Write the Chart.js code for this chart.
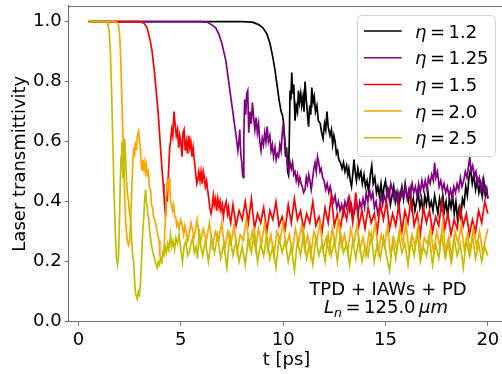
<!DOCTYPE html>
<html>
<head>
<meta charset="utf-8">
<script src="https://cdn.jsdelivr.net/npm/chart.js@4.4.1/dist/chart.umd.min.js"></script>
<style>
  html, body { margin: 0; padding: 0; background: #fff; overflow: hidden; }
  canvas { display: block; }
</style>
</head>
<body>
<canvas id="chart" width="510" height="374"></canvas>
<script>
// tick labels
const xTicks = [0, 5, 10, 15, 20];
const yTicks = [0, 0.2, 0.4, 0.6, 0.8, 1.0];

// legend values and line colours
const etaValues = ['1.2', '1.25', '1.5', '2.0', '2.5'];
const colors = ['#000000', '#800080', '#ff0000', '#ffa500', '#bfbf00'];

// transmittivity vs t [ps] as [t, T] pairs
const eta12 = [[0.5,1],[8.0,1],[8.5,0.998],[8.8,0.99],[9.0,0.98],[9.2,0.96],[9.35,0.93],[9.5,0.88],[9.6,0.84],[9.7,0.79],[9.8,0.74],[9.9,0.7],[9.96,0.69],[10.01,0.67],[10.06,0.62],[10.12,0.55],[10.17,0.58],[10.22,0.5],[10.26,0.49],[10.3,0.6],[10.34,0.77],[10.38,0.74],[10.42,0.83],[10.47,0.76],[10.52,0.79],[10.58,0.67],[10.64,0.72],[10.7,0.7],[10.75,0.77],[10.8,0.73],[10.86,0.76],[10.91,0.72],[10.97,0.75],[11.02,0.7],[11.07,0.8],[11.13,0.74],[11.18,0.7],[11.24,0.65],[11.3,0.72],[11.35,0.69],[11.4,0.78],[11.46,0.73],[11.52,0.75],[11.58,0.7],[11.65,0.72],[11.72,0.67],[11.81,0.66],[11.88,0.63],[11.95,0.61],[12.02,0.66],[12.08,0.64],[12.14,0.7],[12.2,0.65],[12.29,0.62],[12.36,0.64],[12.42,0.59],[12.48,0.62],[12.54,0.6],[12.6,0.56],[12.66,0.57],[12.72,0.54],[12.8,0.53],[12.88,0.51],[12.95,0.53],[13.02,0.5],[13.1,0.52],[13.16,0.49],[13.21,0.51],[13.28,0.47],[13.34,0.45],[13.4,0.49],[13.46,0.54],[13.52,0.5],[13.58,0.47],[13.65,0.51],[13.72,0.48],[13.8,0.5],[13.87,0.46],[13.95,0.49],[14.02,0.45],[14.1,0.47],[14.18,0.43],[14.26,0.49],[14.33,0.52],[14.4,0.46],[14.48,0.48],[14.56,0.43],[14.63,0.45],[14.7,0.42],[14.78,0.46],[14.86,0.41],[14.93,0.45],[15.0,0.47],[15.08,0.42],[15.16,0.44],[15.24,0.39],[15.32,0.42],[15.4,0.45],[15.48,0.4],[15.56,0.43],[15.64,0.38],[15.72,0.42],[15.8,0.45],[15.88,0.41],[15.96,0.46],[16.04,0.42],[16.12,0.4],[16.2,0.44],[16.28,0.38],[16.36,0.41],[16.44,0.37],[16.52,0.4],[16.6,0.43],[16.68,0.38],[16.76,0.41],[16.84,0.36],[16.92,0.42],[17.0,0.39],[17.08,0.43],[17.16,0.38],[17.24,0.4],[17.32,0.37],[17.4,0.42],[17.48,0.39],[17.56,0.36],[17.64,0.41],[17.72,0.38],[17.8,0.42],[17.88,0.37],[17.96,0.4],[18.04,0.35],[18.12,0.41],[18.2,0.38],[18.28,0.42],[18.36,0.36],[18.44,0.4],[18.52,0.34],[18.6,0.38],[18.68,0.35],[18.76,0.41],[18.84,0.39],[18.92,0.45],[19.0,0.42],[19.08,0.48],[19.16,0.51],[19.24,0.46],[19.32,0.49],[19.4,0.44],[19.48,0.47],[19.56,0.43],[19.64,0.46],[19.72,0.42],[19.8,0.47],[19.88,0.42],[19.95,0.44],[20.0,0.41]];

const eta125 = [[0.5,1],[6.0,1],[6.3,0.998],[6.5,0.99],[6.7,0.98],[6.85,0.96],[7.0,0.93],[7.1,0.9],[7.2,0.87],[7.3,0.82],[7.4,0.77],[7.5,0.72],[7.6,0.67],[7.7,0.62],[7.79,0.57],[7.84,0.6],[7.88,0.64],[7.93,0.56],[7.98,0.53],[8.02,0.49],[8.05,0.48],[8.08,0.62],[8.12,0.74],[8.17,0.69],[8.22,0.76],[8.27,0.77],[8.32,0.63],[8.38,0.7],[8.44,0.66],[8.5,0.73],[8.56,0.68],[8.62,0.64],[8.68,0.68],[8.74,0.63],[8.8,0.66],[8.86,0.6],[8.92,0.57],[8.98,0.61],[9.04,0.59],[9.1,0.63],[9.16,0.6],[9.22,0.65],[9.28,0.6],[9.35,0.62],[9.41,0.57],[9.47,0.59],[9.53,0.55],[9.6,0.58],[9.66,0.54],[9.72,0.56],[9.78,0.55],[9.84,0.59],[9.9,0.57],[9.96,0.63],[10.01,0.66],[10.06,0.62],[10.12,0.58],[10.17,0.56],[10.22,0.52],[10.28,0.5],[10.34,0.53],[10.4,0.51],[10.46,0.53],[10.52,0.49],[10.58,0.5],[10.64,0.47],[10.7,0.49],[10.76,0.46],[10.82,0.48],[10.88,0.46],[10.94,0.45],[11.0,0.43],[11.07,0.44],[11.13,0.48],[11.19,0.46],[11.25,0.49],[11.31,0.47],[11.37,0.44],[11.43,0.47],[11.5,0.51],[11.56,0.53],[11.62,0.5],[11.68,0.55],[11.74,0.53],[11.8,0.5],[11.86,0.51],[11.93,0.48],[12.0,0.47],[12.08,0.44],[12.15,0.46],[12.23,0.43],[12.3,0.45],[12.38,0.42],[12.46,0.4],[12.54,0.42],[12.62,0.38],[12.7,0.4],[12.78,0.37],[12.86,0.39],[12.94,0.36],[13.02,0.4],[13.1,0.38],[13.18,0.41],[13.26,0.37],[13.34,0.39],[13.42,0.35],[13.5,0.37],[13.58,0.4],[13.66,0.36],[13.74,0.4],[13.82,0.38],[13.9,0.41],[13.98,0.38],[14.06,0.43],[14.14,0.4],[14.22,0.44],[14.3,0.41],[14.38,0.43],[14.46,0.38],[14.54,0.4],[14.62,0.36],[14.7,0.38],[14.78,0.42],[14.86,0.39],[14.94,0.42],[15.02,0.4],[15.1,0.44],[15.18,0.41],[15.26,0.46],[15.34,0.44],[15.42,0.41],[15.5,0.43],[15.58,0.4],[15.66,0.43],[15.74,0.41],[15.82,0.44],[15.9,0.42],[15.98,0.45],[16.06,0.41],[16.14,0.44],[16.22,0.42],[16.3,0.46],[16.38,0.43],[16.46,0.45],[16.54,0.42],[16.62,0.46],[16.7,0.43],[16.78,0.47],[16.86,0.44],[16.94,0.47],[17.02,0.44],[17.1,0.48],[17.18,0.46],[17.26,0.49],[17.34,0.47],[17.4,0.53],[17.46,0.48],[17.54,0.5],[17.62,0.45],[17.7,0.47],[17.78,0.44],[17.86,0.46],[17.94,0.43],[18.02,0.45],[18.1,0.42],[18.18,0.44],[18.26,0.41],[18.34,0.45],[18.42,0.43],[18.5,0.46],[18.58,0.44],[18.66,0.48],[18.74,0.45],[18.82,0.47],[18.9,0.5],[18.98,0.48],[19.06,0.52],[19.12,0.55],[19.18,0.5],[19.26,0.52],[19.34,0.48],[19.42,0.5],[19.5,0.46],[19.58,0.48],[19.66,0.44],[19.74,0.47],[19.82,0.43],[19.9,0.45],[20.0,0.41]];

const eta15 = [[0.5,1],[3.0,1],[3.2,0.995],[3.35,0.98],[3.5,0.94],[3.6,0.9],[3.7,0.84],[3.8,0.77],[3.9,0.69],[4.0,0.59],[4.08,0.51],[4.14,0.46],[4.18,0.42],[4.22,0.38],[4.26,0.35],[4.3,0.42],[4.34,0.4],[4.4,0.5],[4.46,0.58],[4.5,0.6],[4.56,0.64],[4.61,0.62],[4.67,0.7],[4.72,0.66],[4.78,0.62],[4.84,0.64],[4.9,0.58],[4.95,0.62],[5.0,0.6],[5.06,0.55],[5.11,0.63],[5.16,0.64],[5.22,0.57],[5.28,0.6],[5.33,0.56],[5.39,0.62],[5.44,0.58],[5.49,0.6],[5.55,0.55],[5.6,0.58],[5.66,0.54],[5.72,0.5],[5.78,0.46],[5.82,0.47],[5.88,0.5],[5.94,0.47],[5.99,0.5],[6.05,0.46],[6.1,0.5],[6.15,0.48],[6.2,0.45],[6.26,0.47],[6.31,0.44],[6.37,0.41],[6.42,0.38],[6.48,0.36],[6.53,0.38],[6.59,0.42],[6.64,0.39],[6.7,0.41],[6.75,0.37],[6.81,0.41],[6.87,0.38],[6.92,0.4],[6.97,0.37],[7.03,0.39],[7.08,0.35],[7.14,0.38],[7.22,0.4],[7.28,0.36],[7.33,0.38],[7.38,0.35],[7.44,0.33],[7.55,0.39],[7.7,0.32],[7.85,0.37],[8.0,0.34],[8.15,0.4],[8.3,0.33],[8.45,0.41],[8.6,0.31],[8.75,0.36],[8.9,0.33],[9.05,0.38],[9.2,0.3],[9.35,0.37],[9.5,0.34],[9.65,0.4],[9.8,0.32],[9.95,0.35],[10.1,0.31],[10.25,0.39],[10.4,0.33],[10.55,0.41],[10.7,0.34],[10.85,0.37],[11.0,0.31],[11.15,0.36],[11.3,0.33],[11.45,0.4],[11.6,0.32],[11.75,0.35],[11.9,0.3],[12.05,0.38],[12.2,0.33],[12.35,0.42],[12.5,0.32],[12.65,0.36],[12.8,0.31],[12.95,0.38],[13.1,0.34],[13.25,0.41],[13.4,0.33],[13.55,0.43],[13.7,0.32],[13.85,0.37],[14.0,0.31],[14.15,0.38],[14.3,0.33],[14.45,0.36],[14.6,0.3],[14.75,0.39],[14.9,0.34],[15.05,0.4],[15.2,0.31],[15.35,0.36],[15.5,0.32],[15.65,0.39],[15.8,0.3],[15.95,0.37],[16.1,0.33],[16.25,0.41],[16.4,0.32],[16.55,0.36],[16.7,0.29],[16.85,0.38],[17.0,0.33],[17.15,0.37],[17.3,0.3],[17.45,0.35],[17.6,0.32],[17.75,0.4],[17.9,0.31],[18.05,0.36],[18.2,0.29],[18.35,0.34],[18.5,0.31],[18.65,0.38],[18.8,0.32],[18.95,0.36],[19.1,0.29],[19.25,0.34],[19.4,0.3],[19.55,0.37],[19.7,0.33],[19.85,0.4],[20.0,0.36]];

const eta20 = [[0.5,1],[1.8,1],[1.9,0.995],[1.97,0.985],[2.02,0.95],[2.07,0.87],[2.12,0.75],[2.17,0.62],[2.22,0.5],[2.28,0.38],[2.34,0.3],[2.4,0.265],[2.45,0.255],[2.5,0.27],[2.55,0.33],[2.6,0.43],[2.65,0.52],[2.7,0.58],[2.74,0.55],[2.78,0.6],[2.83,0.57],[2.88,0.62],[2.94,0.635],[2.99,0.6],[3.03,0.58],[3.07,0.52],[3.11,0.505],[3.15,0.54],[3.2,0.51],[3.24,0.53],[3.28,0.5],[3.32,0.52],[3.36,0.49],[3.41,0.5],[3.46,0.45],[3.52,0.44],[3.57,0.39],[3.62,0.38],[3.67,0.35],[3.72,0.34],[3.77,0.33],[3.81,0.31],[3.85,0.3],[3.9,0.28],[3.94,0.27],[3.98,0.22],[4.02,0.21],[4.07,0.2],[4.12,0.22],[4.18,0.24],[4.22,0.3],[4.26,0.36],[4.3,0.42],[4.34,0.47],[4.38,0.45],[4.43,0.48],[4.47,0.44],[4.51,0.4],[4.56,0.38],[4.6,0.37],[4.65,0.39],[4.7,0.35],[4.75,0.35],[4.8,0.32],[4.85,0.33],[4.92,0.31],[5.0,0.34],[5.08,0.32],[5.14,0.29],[5.2,0.32],[5.35,0.27],[5.5,0.33],[5.65,0.28],[5.8,0.34],[5.95,0.26],[6.1,0.31],[6.25,0.27],[6.4,0.33],[6.55,0.25],[6.7,0.3],[6.85,0.27],[7.0,0.33],[7.15,0.24],[7.3,0.3],[7.45,0.26],[7.6,0.32],[7.75,0.23],[7.9,0.29],[8.05,0.27],[8.2,0.34],[8.35,0.25],[8.5,0.3],[8.65,0.24],[8.8,0.31],[8.95,0.26],[9.1,0.33],[9.25,0.24],[9.4,0.29],[9.55,0.22],[9.7,0.3],[9.85,0.27],[10.0,0.33],[10.15,0.25],[10.3,0.29],[10.45,0.23],[10.6,0.31],[10.75,0.26],[10.9,0.32],[11.05,0.24],[11.2,0.29],[11.35,0.22],[11.5,0.3],[11.65,0.27],[11.8,0.33],[11.95,0.24],[12.1,0.28],[12.25,0.23],[12.4,0.31],[12.55,0.26],[12.7,0.34],[12.85,0.25],[13.0,0.29],[13.15,0.23],[13.3,0.31],[13.45,0.26],[13.6,0.32],[13.75,0.24],[13.9,0.28],[14.05,0.22],[14.2,0.3],[14.35,0.27],[14.5,0.33],[14.65,0.23],[14.8,0.29],[14.95,0.25],[15.1,0.32],[15.25,0.22],[15.4,0.28],[15.55,0.24],[15.7,0.31],[15.85,0.26],[16.0,0.33],[16.15,0.23],[16.3,0.29],[16.45,0.25],[16.6,0.32],[16.75,0.22],[16.9,0.28],[17.05,0.26],[17.2,0.31],[17.35,0.23],[17.5,0.3],[17.65,0.25],[17.8,0.33],[17.95,0.22],[18.1,0.28],[18.25,0.21],[18.4,0.3],[18.55,0.26],[18.7,0.32],[18.85,0.24],[19.0,0.29],[19.15,0.23],[19.3,0.31],[19.45,0.25],[19.6,0.3],[19.75,0.23],[19.9,0.28],[20.0,0.31]];

const eta25 = [[0.5,1],[1.3,1],[1.42,0.995],[1.5,0.97],[1.56,0.9],[1.62,0.77],[1.68,0.6],[1.74,0.43],[1.8,0.3],[1.86,0.21],[1.91,0.19],[1.96,0.22],[2.0,0.32],[2.04,0.45],[2.08,0.55],[2.12,0.6],[2.15,0.52],[2.18,0.48],[2.22,0.58],[2.26,0.61],[2.3,0.55],[2.35,0.47],[2.4,0.42],[2.45,0.4],[2.5,0.36],[2.55,0.34],[2.6,0.27],[2.65,0.22],[2.7,0.2],[2.75,0.13],[2.8,0.09],[2.87,0.076],[2.93,0.1],[2.98,0.09],[3.03,0.13],[3.08,0.2],[3.14,0.3],[3.19,0.34],[3.24,0.41],[3.28,0.44],[3.32,0.4],[3.36,0.38],[3.4,0.35],[3.44,0.34],[3.48,0.3],[3.52,0.28],[3.58,0.25],[3.64,0.23],[3.69,0.22],[3.75,0.2],[3.8,0.19],[3.85,0.18],[3.9,0.2],[3.96,0.19],[4.01,0.21],[4.07,0.2],[4.12,0.23],[4.18,0.22],[4.24,0.25],[4.3,0.23],[4.36,0.26],[4.42,0.24],[4.5,0.29],[4.56,0.25],[4.62,0.27],[4.7,0.24],[4.76,0.28],[4.84,0.26],[4.92,0.29],[5.0,0.24],[5.08,0.2],[5.16,0.25],[5.25,0.27],[5.33,0.22],[5.41,0.23],[5.5,0.26],[5.58,0.28],[5.66,0.23],[5.74,0.25],[5.82,0.21],[5.9,0.31],[5.98,0.25],[6.07,0.22],[6.2,0.27],[6.35,0.2],[6.5,0.28],[6.65,0.23],[6.8,0.29],[6.95,0.21],[7.1,0.26],[7.25,0.18],[7.4,0.29],[7.55,0.22],[7.7,0.27],[7.85,0.2],[8.0,0.25],[8.15,0.19],[8.3,0.28],[8.45,0.23],[8.6,0.3],[8.75,0.2],[8.9,0.26],[9.05,0.22],[9.2,0.29],[9.35,0.21],[9.5,0.25],[9.65,0.18],[9.8,0.28],[9.95,0.23],[10.1,0.27],[10.25,0.2],[10.4,0.25],[10.55,0.17],[10.7,0.27],[10.85,0.22],[11.0,0.3],[11.15,0.21],[11.3,0.26],[11.45,0.19],[11.6,0.28],[11.75,0.22],[11.9,0.26],[12.05,0.2],[12.2,0.29],[12.35,0.22],[12.5,0.27],[12.65,0.2],[12.8,0.3],[12.95,0.23],[13.1,0.26],[13.25,0.19],[13.4,0.27],[13.55,0.21],[13.7,0.28],[13.85,0.2],[14.0,0.25],[14.15,0.22],[14.3,0.29],[14.45,0.2],[14.6,0.26],[14.75,0.21],[14.9,0.28],[15.05,0.22],[15.2,0.17],[15.35,0.27],[15.5,0.21],[15.65,0.29],[15.8,0.23],[15.95,0.26],[16.1,0.19],[16.25,0.27],[16.4,0.22],[16.55,0.3],[16.7,0.2],[16.85,0.25],[17.0,0.22],[17.15,0.28],[17.3,0.19],[17.45,0.26],[17.6,0.21],[17.75,0.29],[17.9,0.22],[18.05,0.27],[18.2,0.2],[18.35,0.28],[18.5,0.22],[18.65,0.26],[18.8,0.18],[18.95,0.27],[19.1,0.22],[19.25,0.29],[19.4,0.21],[19.55,0.26],[19.7,0.2],[19.85,0.25],[20.0,0.22]];

const series = [eta12, eta125, eta15, eta20, eta25];

const FONT = "'DejaVu Sans', sans-serif";
const SPINE = '#6f6f6f';

// matplotlib draws later lines on top; Chart.js puts dataset 0 on top, so reverse
const datasets = series.map((s, i) => ({
    label: 'η = ' + etaValues[i],
    data: s.map(p => ({ x: p[0], y: p[1] })),
    borderColor: colors[i],
    borderWidth: 1.7,
    pointRadius: 0,
    tension: 0,
    fill: false
})).reverse();

// draws a row of text pieces (regular / italic / subscript) left to right
function drawPieces(ctx, pieces, x, y) {
    pieces.forEach(p => {
        const size = p.size || 18;
        ctx.font = (p.italic ? 'italic ' : '') + size + 'px ' + FONT;
        ctx.fillText(p.t, x, y + (p.dy || 0));
        x += ctx.measureText(p.t).width + (p.gap || 0);
    });
}

function piecesWidth(ctx, pieces) {
    let w = 0;
    pieces.forEach(p => {
        ctx.font = (p.italic ? 'italic ' : '') + (p.size || 18) + 'px ' + FONT;
        w += ctx.measureText(p.t).width + (p.gap || 0);
    });
    return w;
}

const extras = {
    id: 'extras',
    afterDraw(chart) {
        const ctx = chart.ctx;
        const a = chart.chartArea;
        ctx.save();

        // top and right spines (the right one falls just outside the window, as in the original)
        ctx.strokeStyle = SPINE;
        ctx.lineWidth = 1;
        ctx.beginPath();
        ctx.moveTo(a.left, Math.round(a.top) + 0.5);
        ctx.lineTo(a.right, Math.round(a.top) + 0.5);
        ctx.moveTo(Math.round(a.right) - 0.5, a.top);
        ctx.lineTo(Math.round(a.right) - 0.5, a.bottom);
        ctx.stroke();

        ctx.fillStyle = '#000';
        ctx.textBaseline = 'alphabetic';

        // axis titles
        ctx.font = '18px ' + FONT;
        ctx.textAlign = 'center';
        ctx.fillText('t [ps]', 286.5, 365);
        ctx.save();
        ctx.translate(24.7, (a.top + a.bottom) / 2);
        ctx.rotate(-Math.PI / 2);
        ctx.fillText('Laser transmittivity', 0, 0);
        ctx.restore();

        // legend box
        const lx = 357.5, ly = 15.5, lw = 138, lh = 141, r = 4;
        ctx.beginPath();
        ctx.moveTo(lx + r, ly);
        ctx.arcTo(lx + lw, ly, lx + lw, ly + lh, r);
        ctx.arcTo(lx + lw, ly + lh, lx, ly + lh, r);
        ctx.arcTo(lx, ly + lh, lx, ly, r);
        ctx.arcTo(lx, ly, lx + lw, ly, r);
        ctx.closePath();
        ctx.fillStyle = 'rgba(255,255,255,0.8)';
        ctx.fill();
        ctx.strokeStyle = '#d6d6d6';
        ctx.stroke();

        ctx.textAlign = 'left';
        etaValues.forEach((v, i) => {
            const y = 31 + i * 26.7;
            ctx.strokeStyle = colors[i];
            ctx.lineWidth = 1.5;
            ctx.beginPath();
            ctx.moveTo(364, y);
            ctx.lineTo(401.7, y);
            ctx.stroke();
            ctx.fillStyle = '#000';
            drawPieces(ctx, [
                { t: 'η', italic: true, gap: 3.5 },
                { t: '=', gap: 3.5 },
                { t: v }
            ], 415, y + 6.5);
        });

        // annotation
        ctx.fillStyle = '#000';
        ctx.textAlign = 'center';
        ctx.font = '18px ' + FONT;
        ctx.fillText('TPD + IAWs + PD', 388, 295);
        ctx.textAlign = 'left';
        const line2 = [
            { t: 'L', italic: true },
            { t: 'n', italic: true, size: 12.6, dy: 3.5, gap: 3.5 },
            { t: '=', gap: 3.5 },
            { t: '125.0', gap: 3.5 },
            { t: 'μm', italic: true }
        ];
        const w2 = piecesWidth(ctx, line2);
        drawPieces(ctx, line2, 386 - w2 / 2, 313);

        ctx.restore();
    }
};

new Chart(document.getElementById('chart'), {
    type: 'line',
    data: { datasets },
    plugins: [extras],
    options: {
        responsive: false,
        animation: false,
        events: [],
        layout: { padding: { top: 5.7, right: 2.2, left: 0, bottom: 0 } },
        plugins: {
            legend: { display: false },
            tooltip: { enabled: false }
        },
        scales: {
            x: {
                type: 'linear',
                min: -0.475,
                max: 20.975,
                afterBuildTicks: s => { s.ticks = xTicks.map(v => ({ value: v })); },
                afterFit: s => {
                    s.height = 52.3;
                    s.paddingLeft = 0; s.paddingRight = 0;
                },
                ticks: {
                    font: { family: FONT, size: 18 },
                    color: '#000',
                    padding: 4,
                    maxRotation: 0,
                    callback: v => String(v)
                },
                grid: { display: true, drawOnChartArea: false, drawTicks: true, tickLength: 4, color: SPINE },
                border: { display: true, color: SPINE, width: 1 }
            },
            y: {
                type: 'linear',
                min: 0,
                max: 1.053,
                afterBuildTicks: s => { s.ticks = yTicks.map(v => ({ value: v })); },
                afterFit: s => {
                    s.width = 68.7;
                    s.paddingTop = 0; s.paddingBottom = 0;
                },
                ticks: {
                    font: { family: FONT, size: 18 },
                    color: '#000',
                    padding: 3,
                    callback: v => v.toFixed(1)
                },
                grid: { display: true, drawOnChartArea: false, drawTicks: true, tickLength: 4, color: SPINE },
                border: { display: true, color: SPINE, width: 1 }
            }
        }
    }
});
</script>
</body>
</html>
